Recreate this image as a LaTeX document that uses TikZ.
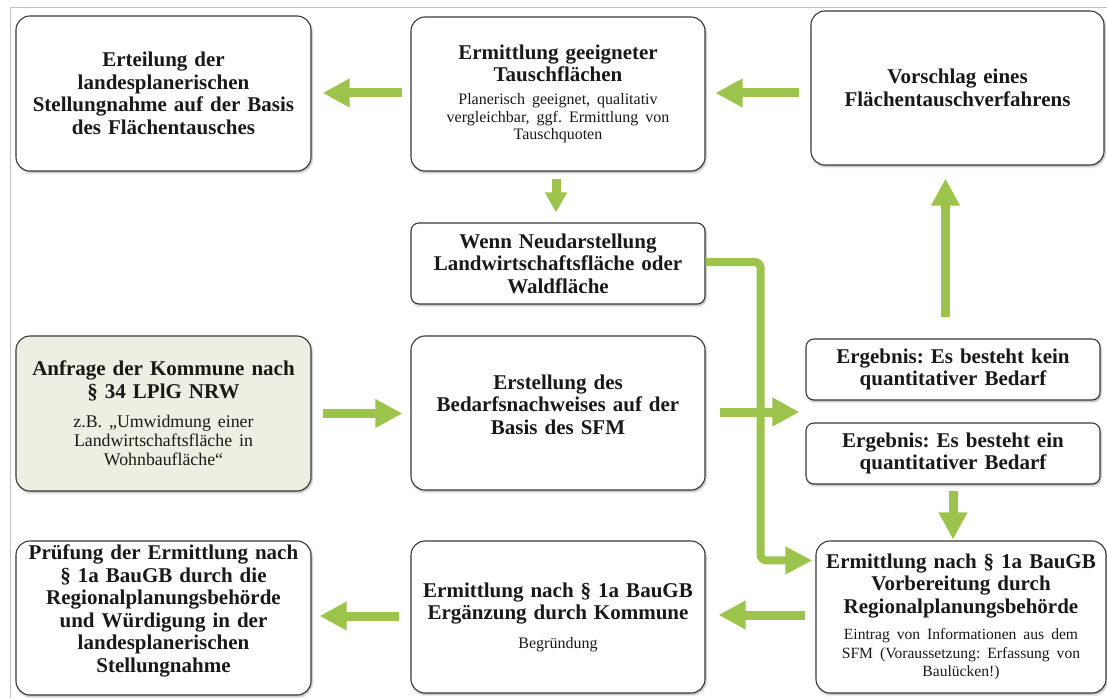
\documentclass[tikz,border=0pt]{standalone}
\usepackage{fontspec}
\setmainfont{Liberation Serif}
\usetikzlibrary{arrows.meta,shadows.blur}
\frenchspacing

\definecolor{flowgreen}{RGB}{156,196,76}
\definecolor{boxline}{RGB}{58,58,58}
\definecolor{requestfill}{RGB}{237,239,226}
\definecolor{framegray}{RGB}{192,192,192}
\definecolor{inktext}{RGB}{25,25,25}

\newcommand{\boxhead}{\fontsize{21}{22.5}\selectfont\bfseries}
% note text: size and line distance
\newcommand{\boxnote}[2]{\fontsize{#1}{#2}\selectfont\mdseries}

\tikzset{
  flowbox/.style={draw=boxline, line width=1.1pt, rounded corners=14pt, fill=white,
    text=inktext, align=center, text width=286pt, inner sep=2pt, font=\boxhead,
    blur shadow={shadow xshift=1pt, shadow yshift=-1.6pt, shadow blur radius=2pt, shadow opacity=35}},
  smallbox/.style={flowbox, rounded corners=8pt},
  boxtext/.style={text=inktext, align=center, text width=286pt, inner sep=0pt, font=\boxhead},
  fatarrow/.style={draw=flowgreen, line width=9pt, -{Triangle[width=27pt,length=27pt]}},
  slimarrow/.style={draw=flowgreen, line width=9pt, -{Triangle[width=21pt,length=20pt]}},
  elbowarrow/.style={draw=flowgreen, line width=8pt, rounded corners=6pt, -{Triangle[width=26pt,length=27pt]}},
}

\begin{document}
\begin{tikzpicture}[x=1pt,y=-1pt]
\useasboundingbox (0,0) rectangle (1107,698);

% thin page frame
\draw[framegray, line width=1pt] (1107,8) -- (10,8) -- (10,698);

% top row
\node[flowbox, minimum width=295pt, minimum height=155pt] (A) at (163.5,93.5)
  {Erteilung der\\landesplanerischen\\Stellungnahme auf der Basis\\des Flächentausches};
\node[flowbox, minimum width=294pt, minimum height=154pt] (B) at (558,94)
  {Ermittlung geeigneter\\Tauschflächen\par\vspace{5pt}\boxnote{16}{17.6} Planerisch geeignet, qualitativ\\vergleichbar, ggf. Ermittlung von\\Tauschquoten\par};
\node[flowbox, minimum width=293pt, minimum height=154pt] (C) at (957.5,88)
  {Vorschlag eines\\Flächentauschverfahrens};

% condition box
\node[smallbox, minimum width=294pt, minimum height=81pt] (D) at (558,263.5)
  {Wenn Neudarstellung\\Landwirtschaftsfläche oder\\Waldfläche};

% middle row
\node[flowbox, fill=requestfill, minimum width=295pt, minimum height=155pt] (E) at (163.5,413.5)
  {Anfrage der Kommune nach\\§ 34 LPlG NRW\par\vspace{10pt}\boxnote{17.8}{19.2} z.B. „Umwidmung einer\\Landwirtschaftsfläche in\\Wohnbaufläche“\par};
\node[flowbox, minimum width=294pt, minimum height=154pt] (F) at (558,413) {};
\node[boxtext, yshift=8.5pt] (Ftext) at (F.center)
  {Erstellung des\\Bedarfsnachweises auf der\\Basis des SFM};
\node[smallbox, minimum width=294pt, minimum height=61pt] (G) at (953,369.5)
  {Ergebnis: Es besteht kein\\quantitativer Bedarf};
\node[smallbox, minimum width=294pt, minimum height=61pt] (H) at (953,453.5)
  {Ergebnis: Es besteht ein\\quantitativer Bedarf};

% bottom row
\node[flowbox, minimum width=295pt, minimum height=154pt] (K) at (163.5,618) {};
\node[boxtext, yshift=7pt] (Ktext) at (K.center)
  {Prüfung der Ermittlung nach\\§ 1a BauGB durch die\\Regionalplanungsbehörde\\und Würdigung in der\\landesplanerischen\\Stellungnahme};
\node[flowbox, minimum width=294pt, minimum height=152pt] (J) at (558,617)
  {Ermittlung nach § 1a BauGB\\Ergänzung durch Kommune\par\vspace{11pt}\boxnote{16}{17.6} Begründung\par};
\node[flowbox, minimum width=286pt, minimum height=152pt] (I) at (961,617)
  {Ermittlung nach § 1a BauGB\\Vorbereitung durch\\Regionalplanungsbehörde\par\vspace{8pt}\boxnote{15.6}{18.5} Eintrag von Informationen aus dem\\SFM (Voraussetzung: Erfassung von\\Baulücken!)\par};

% connectors
\draw[fatarrow, shorten <=8pt, shorten >=11pt] ([yshift=1pt]B.west) -- ([yshift=1pt]B.west -| A.east);
\draw[fatarrow, shorten <=11pt, shorten >=10pt] ([yshift=1pt]B.east -| C.west) -- ([yshift=1pt]B.east);
\draw[slimarrow, shorten <=7pt, shorten >=10pt] ([xshift=-2pt]B.south) -- ([xshift=-2pt]D.north);
\draw[fatarrow, shorten <=21pt, shorten >=13pt] ([xshift=-7.5pt]G.north) -- ([xshift=-7.5pt]G.north |- C.south);
\draw[fatarrow, shorten <=11pt, shorten >=8pt] (E.east) -- (E.east -| F.west);
\draw[fatarrow, shorten <=14pt, shorten >=6pt] ([yshift=1pt]F.east) -- ([yshift=1pt]F.east -| G.west);
\draw[elbowarrow, shorten >=3pt] ([yshift=1.5pt]D.east) -- ++(55,0) |- ([yshift=-20pt]I.north west);
\draw[fatarrow, shorten <=6pt, shorten >=1pt] (H.south) -- (H.south |- I.north);
\draw[fatarrow, shorten <=10pt, shorten >=13pt] ([yshift=2pt]I.west) -- ([yshift=2pt]I.west -| J.east);
\draw[fatarrow, shorten <=11pt, shorten >=8pt] ([yshift=1pt]J.west) -- ([yshift=1pt]J.west -| K.east);
\end{tikzpicture}
\end{document}
